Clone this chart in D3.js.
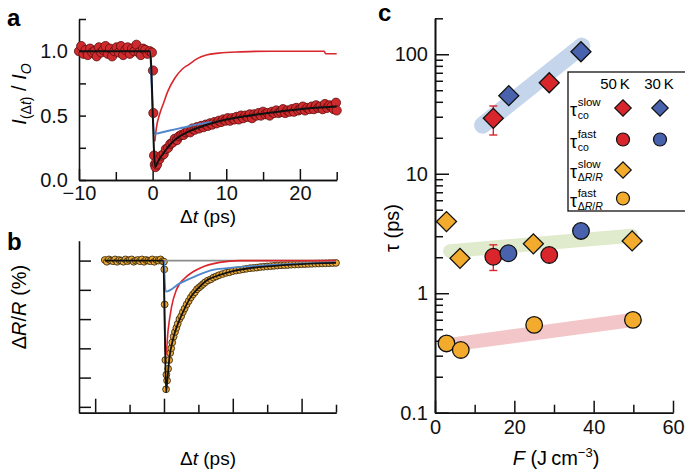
<!DOCTYPE html>
<html>
<head>
<meta charset="utf-8">
<script src="https://cdn.jsdelivr.net/npm/d3@7"></script>
<style>
  body { margin: 0; background: #fff; }
  svg { font-family: "Liberation Sans", Arial, Helvetica, sans-serif; }
</style>
</head>
<body>
<svg id="fig" width="685" height="472"></svg>
<script>
// ---- panel a: transmitted intensity I(dt)/I0 ----
const aTime = [-10, -9.7, -9.4, -9.1, -8.8, -8.5, -8.2, -7.9, -7.6, -7.3, -7.0, -6.7, -6.4, -6.1, -5.8, -5.5,
  -5.2, -4.9, -4.6, -4.3, -4.0, -3.7, -3.4, -3.1, -2.8, -2.5, -2.2, -1.9, -1.6, -1.3, -1.0, -0.7, -0.4,
  -0.1, 0.05, 0.1, 0.2, 0.3, 0.4, 0.5,
  0.6, 0.9, 1.2, 1.5, 1.8, 2.1, 2.4, 2.7, 3.0, 3.3, 3.6, 3.9, 4.2, 4.5, 4.8, 5.1, 5.4, 5.7, 6.0, 6.3,
  6.6, 6.9, 7.2, 7.5, 7.8, 8.1, 8.4, 8.7, 9.0, 9.3, 9.6, 9.9, 10.2, 10.5, 10.8, 11.1, 11.4, 11.7, 12.0,
  12.3, 12.6, 12.9, 13.2, 13.5, 13.8, 14.1, 14.4, 14.7, 15.0, 15.3, 15.6, 15.9, 16.2, 16.5, 16.8, 17.1,
  17.4, 17.7, 18.0, 18.3, 18.6, 18.9, 19.2, 19.5, 19.8, 20.1, 20.4, 20.7, 21.0, 21.3, 21.6, 21.9, 22.2,
  22.5, 22.8, 23.1, 23.4, 23.7, 24.0, 24.3, 24.6, 24.9, 25.0];
const aRatio = [1.00, 1.04, 0.98, 1.01, 0.97, 1.02, 0.99, 1.00, 0.96, 1.03, 0.99, 1.01, 1.04, 0.98, 1.02, 0.96,
  1.00, 1.03, 0.99, 1.04, 0.97, 1.01, 1.03, 0.98, 1.02, 1.00, 1.05, 0.99, 0.97, 1.02, 1.01, 0.98, 1.00,
  0.99, 0.85, 0.52, 0.19, 0.12, 0.10, 0.14,
  0.12, 0.16, 0.19, 0.20, 0.24, 0.25, 0.28, 0.29, 0.32, 0.31, 0.34, 0.35, 0.35, 0.37, 0.38, 0.37, 0.40, 0.39, 0.41, 0.40,
  0.42, 0.41, 0.43, 0.42, 0.44, 0.43, 0.45, 0.44, 0.46, 0.45, 0.47, 0.46, 0.48, 0.46, 0.48, 0.47, 0.49, 0.47, 0.50,
  0.48, 0.50, 0.49, 0.51, 0.48, 0.51, 0.50, 0.52, 0.50, 0.53, 0.51, 0.52, 0.50, 0.53, 0.52, 0.54, 0.52,
  0.53, 0.55, 0.52, 0.54, 0.53, 0.55, 0.53, 0.56, 0.54, 0.55, 0.57, 0.54, 0.56, 0.55, 0.57, 0.55, 0.58,
  0.56, 0.57, 0.55, 0.59, 0.56, 0.58, 0.57, 0.55, 0.60, 0.54];

const aFitTime  = [-10, -0.35, 0.35, 0.7, 1, 1.5, 2, 3, 4, 5, 6.4, 8, 10, 12.5, 15, 20, 25];
const aFitRatio = [1.0, 1.0, 0.10, 0.14, 0.17, 0.21, 0.25, 0.31, 0.35, 0.38, 0.41, 0.44, 0.47, 0.495, 0.515, 0.55, 0.57];
const aRedTime  = [0.3, 0.5, 1, 1.5, 2, 3, 4, 5, 6, 7.3, 9, 12, 16, 23.3, 23.5, 25];
const aRedRatio = [0.30, 0.40, 0.52, 0.60, 0.68, 0.79, 0.86, 0.90, 0.94, 0.97, 0.985, 0.995, 1.0, 1.0, 0.98, 0.98];
const aBlueTime  = [-0.3, 0.3, 2, 4, 6, 8];
const aBlueRatio = [1.0, 0.36, 0.38, 0.405, 0.43, 0.45];

// ---- panel b: reflectivity change dR/R ----
const bTime = [-8.6, -8.3, -8.0, -7.7, -7.4, -7.1, -6.8, -6.5, -6.2, -5.9, -5.6, -5.3, -5.0, -4.7, -4.4, -4.1,
  -3.8, -3.5, -3.2, -2.9, -2.6, -2.3, -2.0, -1.7, -1.4, -1.1, -0.8, -0.5, -0.2,
  0, 0.05, 0.1, 0.2, 0.3, 0.35, 0.45, 0.6, 0.75, 0.9, 1.05, 1.2, 1.4, 1.6, 1.8, 2.0, 2.25, 2.5, 2.75, 3.0,
  3.3, 3.6, 3.9, 4.2, 4.5, 4.8, 5.1, 5.4, 5.7, 6.0, 6.4, 6.8, 7.2, 7.6, 8.0, 8.5, 9.0, 9.5, 10, 10.5, 11,
  11.5, 12, 12.5, 13, 13.5, 14, 14.5, 15, 15.5, 16, 16.5, 17, 17.5, 18, 18.5, 19, 19.5, 20, 20.5, 21, 21.5,
  22, 22.5, 23, 23.5, 24, 24.5, 25];
const bSignal = [0.01, -0.02, 0.02, 0.00, -0.01, 0.02, -0.02, 0.01, 0.00, -0.02, 0.02, -0.01, 0.01, 0.02, -0.02, 0.00,
  0.01, -0.01, 0.02, -0.02, 0.01, 0.00, -0.01, 0.02, -0.02, 0.01, 0.00, 0.02, -0.01,
  -0.02, -0.15, -0.75, -1.7, -2.2, -1.95, -2.05, -1.85, -1.7, -1.58, -1.5, -1.4, -1.3, -1.22, -1.15, -1.08, -1.0, -0.95, -0.88, -0.82,
  -0.75, -0.69, -0.63, -0.58, -0.54, -0.49, -0.46, -0.43, -0.40, -0.37, -0.34, -0.32, -0.29, -0.27, -0.25, -0.23, -0.21, -0.20, -0.18, -0.17, -0.16,
  -0.15, -0.14, -0.13, -0.125, -0.12, -0.11, -0.105, -0.10, -0.095, -0.09, -0.085, -0.08, -0.078, -0.075, -0.07, -0.068, -0.065, -0.062, -0.06, -0.057, -0.055,
  -0.052, -0.05, -0.048, -0.046, -0.044, -0.042, -0.04];

const bFitTime   = [-8.6, -0.1, 0.1, 0.3, 0.45, 0.8, 1.2, 1.6, 2.3, 3, 3.75, 5, 6.2, 8, 10, 12.5, 15, 20, 25];
const bFitSignal = [0, 0, -1.0, -2.25, -2.1, -1.65, -1.4, -1.22, -1.0, -0.82, -0.65, -0.47, -0.34, -0.25, -0.18, -0.13, -0.1, -0.06, -0.04];
const bRedTime   = [0, 0.1, 0.25, 0.6, 1.1, 1.8, 3.3, 5.2, 8.1, 11, 25];
const bRedSignal = [0, -1.2, -1.64, -1.19, -0.79, -0.5, -0.27, -0.13, -0.03, 0, 0];
const bBlueTime   = [0, 0.25, 2.3, 4.7, 7.1, 10, 15, 20, 25];
const bBlueSignal = [0, -0.53, -0.39, -0.26, -0.16, -0.12, -0.08, -0.05, -0.03];
const bBaseTime   = [0, 25];
const bBaseSignal = [0, 0];

// ---- panel c: time constants vs fluence ----
const coSlow50F = [14.7, 28.8];   const coSlow50Tau = [29.1, 57.8];
const coSlow30F = [18.6, 36.8];   const coSlow30Tau = [45, 105];
const coFast50F = [14.7, 28.8];   const coFast50Tau = [2.02, 2.09];
const coFast30F = [18.5, 36.8];   const coFast30Tau = [2.16, 3.32];
const drSlowF = [2.9, 6.3, 24.8, 49.7];  const drSlowTau = [3.98, 1.96, 2.59, 2.74];
const drFastF = [2.9, 6.5, 25.0, 49.9];  const drFastTau = [0.38, 0.335, 0.543, 0.598];
const errF = [14.7, 14.7];  const errLo = [21.1, 1.55];  const errHi = [36.9, 2.54];
const bandBlueF = [12, 37];   const bandBlueTau = [25.5, 117];
const bandGreenF = [3.8, 49.5]; const bandGreenTau = [2.25, 3.03];
const bandPinkF = [5, 50.2];  const bandPinkTau = [0.375, 0.6];

const RED = "#d8262c", BLUE = "#4862ae", ORANGE = "#f2ab2c";

const svg = d3.select("#fig");
svg.append("rect").attr("width", 685).attr("height", 472).attr("fill", "#fff");

function styleAxis(g, fs) {
  g.select(".domain").attr("stroke", "#111").attr("stroke-width", 1.6);
  g.selectAll(".tick line").attr("stroke", "#111").attr("stroke-width", 1.5);
  g.selectAll(".tick text").attr("fill", "#111").attr("font-size", fs).attr("font-family", null);
}

function zip(xs, ys) { return xs.map((x, i) => [x, ys[i]]); }

// ================= panel a =================
const xa = d3.scaleLinear().domain([-10, 25]).range([79, 336.7]);
const ya = d3.scaleLinear().domain([0, 1.25]).range([180, 19]);

svg.append("g").attr("transform", "translate(0,180)")
  .call(d3.axisBottom(xa).tickValues([-5, 5, 15, 25]).tickSize(-8).tickSizeOuter(0).tickFormat(""))
  .call(g => styleAxis(g, 20));
svg.append("g").attr("transform", "translate(0,180)")
  .call(d3.axisBottom(xa).tickValues([-10, 0, 10, 20]).tickSize(-11).tickSizeOuter(0).tickPadding(6))
  .call(g => styleAxis(g, 20));
svg.append("g").attr("transform", "translate(79,0)")
  .call(d3.axisLeft(ya).tickValues([0, 0.25, 0.5, 0.75, 1.0, 1.25]).tickSize(-7).tickSizeOuter(0)
    .tickPadding(11).tickFormat(d => (d * 100) % 50 === 0 ? d3.format(".1f")(d) : ""))
  .call(g => styleAxis(g, 20));

const lineA = d3.line().x(d => xa(d[0])).y(d => ya(d[1])).curve(d3.curveMonotoneX);

svg.append("g").selectAll("circle").data(zip(aTime, aRatio)).join("circle")
  .attr("cx", d => xa(d[0])).attr("cy", d => ya(d[1])).attr("r", 4.6)
  .attr("fill", "#cf2b2e").attr("stroke", "#5a0d0d").attr("stroke-width", 0.8);

svg.append("path").datum(zip(aRedTime, aRedRatio)).attr("d", lineA)
  .attr("fill", "none").attr("stroke", RED).attr("stroke-width", 1.6);
svg.append("path").datum(zip(aBlueTime, aBlueRatio)).attr("d", lineA)
  .attr("fill", "none").attr("stroke", "#4f86cc").attr("stroke-width", 2);
svg.append("path").datum(zip(aFitTime, aFitRatio)).attr("d", lineA)
  .attr("fill", "none").attr("stroke", "#111").attr("stroke-width", 2);

// ================= panel b =================
const xb = d3.scaleLinear().domain([-12.35, 25]).range([79, 336]);
const yb = d3.scaleLinear().domain([-2.6, 0.34]).range([412.7, 240.7]);

svg.append("g").attr("transform", "translate(0,412.7)")
  .call(d3.axisBottom(xb).tickValues([-5, 5, 15, 25]).tickSize(-8).tickSizeOuter(0).tickFormat(""))
  .call(g => styleAxis(g, 20));
svg.append("g").attr("transform", "translate(0,412.7)")
  .call(d3.axisBottom(xb).tickValues([-10, 0, 10, 20]).tickSize(-14).tickSizeOuter(0).tickFormat(""))
  .call(g => styleAxis(g, 20));
svg.append("g").attr("transform", "translate(79,0)")
  .call(d3.axisLeft(yb).tickValues([0, -0.5, -1, -1.5, -2, -2.5]).tickSize(-12).tickSizeOuter(0).tickFormat(""))
  .call(g => styleAxis(g, 20));

const lineB = d3.line().x(d => xb(d[0])).y(d => yb(d[1])).curve(d3.curveMonotoneX);

svg.append("g").selectAll("circle").data(zip(bTime, bSignal)).join("circle")
  .attr("cx", d => xb(d[0])).attr("cy", d => yb(d[1])).attr("r", 3.4)
  .attr("fill", "#eeaa35").attr("stroke", "#3b2c14").attr("stroke-width", 0.9);

svg.append("path").datum(zip(bBaseTime, bBaseSignal)).attr("d", lineB)
  .attr("fill", "none").attr("stroke", "#8c8c8c").attr("stroke-width", 1.6);
svg.append("path").datum(zip(bRedTime, bRedSignal)).attr("d", lineB)
  .attr("fill", "none").attr("stroke", RED).attr("stroke-width", 1.6);
svg.append("path").datum(zip(bBlueTime, bBlueSignal)).attr("d", lineB)
  .attr("fill", "none").attr("stroke", "#4f86cc").attr("stroke-width", 1.8);
svg.append("path").datum(zip(bFitTime, bFitSignal)).attr("d", lineB)
  .attr("fill", "none").attr("stroke", "#111").attr("stroke-width", 1.8);

// ================= panel c =================
const xc = d3.scaleLinear().domain([0, 60]).range([435, 673]);
const yc = d3.scaleLog().domain([0.1, 200]).range([412.7, 18.3]);

const minorLog = [];
[0.1, 1, 10, 100].forEach(dec => { for (let k = 2; k <= 9; k++) if (dec * k <= 200) minorLog.push(dec * k); });

svg.append("g").attr("transform", "translate(0,412.7)")
  .call(d3.axisBottom(xc).tickValues([10, 30, 50]).tickSize(-8).tickSizeOuter(0).tickFormat(""))
  .call(g => styleAxis(g, 20));
svg.append("g").attr("transform", "translate(0,412.7)")
  .call(d3.axisBottom(xc).tickValues([0, 20, 40, 60]).tickSize(-12).tickSizeOuter(0).tickPadding(7).tickFormat(d3.format("d")))
  .call(g => styleAxis(g, 20));
svg.append("g").attr("transform", "translate(435,0)")
  .call(d3.axisLeft(yc).tickValues(minorLog).tickSize(-8).tickSizeOuter(0).tickFormat(""))
  .call(g => styleAxis(g, 20));
svg.append("g").attr("transform", "translate(435,0)")
  .call(d3.axisLeft(yc).tickValues([0.1, 1, 10, 100]).tickSize(-14).tickSizeOuter(0).tickPadding(7)
    .tickFormat(d => d < 1 ? "0.1" : String(d)))
  .call(g => styleAxis(g, 20));

const lineC = d3.line().x(d => xc(d[0])).y(d => yc(d[1]));
[[bandBlueF, bandBlueTau, "#c5d5eb", 17],
 [bandGreenF, bandGreenTau, "#e0ebcd", 14],
 [bandPinkF, bandPinkTau, "#f3c7c9", 14]].forEach(([fx, ty, col, w]) => {
  svg.append("path").datum(zip(fx, ty)).attr("d", lineC)
    .attr("fill", "none").attr("stroke", col).attr("stroke-width", w).attr("stroke-linecap", "round");
});

// error bars
const eb = svg.append("g").attr("stroke", RED).attr("stroke-width", 1.4);
errF.forEach((f, i) => {
  const x = xc(f);
  eb.append("line").attr("x1", x).attr("x2", x).attr("y1", yc(errLo[i])).attr("y2", yc(errHi[i]));
  eb.append("line").attr("x1", x - 4).attr("x2", x + 4).attr("y1", yc(errLo[i])).attr("y2", yc(errLo[i]));
  eb.append("line").attr("x1", x - 4).attr("x2", x + 4).attr("y1", yc(errHi[i])).attr("y2", yc(errHi[i]));
});

const diamond = d3.symbol().type(d3.symbolSquare).size(200);
function drawDiamonds(fx, ty, col) {
  svg.append("g").selectAll("path").data(zip(fx, ty)).join("path")
    .attr("d", diamond)
    .attr("transform", d => `translate(${xc(d[0])},${yc(d[1])}) rotate(45)`)
    .attr("fill", col).attr("stroke", "#111").attr("stroke-width", 1.3);
}
function drawCircles(fx, ty, col) {
  svg.append("g").selectAll("circle").data(zip(fx, ty)).join("circle")
    .attr("cx", d => xc(d[0])).attr("cy", d => yc(d[1])).attr("r", 8.3)
    .attr("fill", col).attr("stroke", "#111").attr("stroke-width", 1.3);
}
drawDiamonds(drSlowF, drSlowTau, ORANGE);
drawCircles(drFastF, drFastTau, ORANGE);
drawCircles(coFast50F, coFast50Tau, RED);
drawCircles(coFast30F, coFast30Tau, BLUE);
drawDiamonds(coSlow50F, coSlow50Tau, RED);
drawDiamonds(coSlow30F, coSlow30Tau, BLUE);

// legend
const leg = svg.append("g");
leg.append("rect").attr("x", 568).attr("y", 72).attr("width", 125).attr("height", 139)
  .attr("fill", "#fff").attr("stroke", "#111").attr("stroke-width", 1.3);
leg.append("text").attr("x", 615).attr("y", 89).attr("text-anchor", "middle").attr("font-size", 15).text("50\u2009K");
leg.append("text").attr("x", 659).attr("y", 89).attr("text-anchor", "middle").attr("font-size", 15).text("30\u2009K");

const legendRows = [
  { sup: "slow", sub: "co", marker: "d", c50: RED, c30: BLUE },
  { sup: "fast", sub: "co", marker: "c", c50: RED, c30: BLUE },
  { sup: "slow", sub: "ΔR/R", marker: "d", c50: ORANGE, c30: null },
  { sup: "fast", sub: "ΔR/R", marker: "c", c50: ORANGE, c30: null }
];
const rowY = [108, 139.5, 170, 198.5];
const smallDiamond = d3.symbol().type(d3.symbolSquare).size(135);
legendRows.forEach((r, i) => {
  const y = rowY[i];
  const tau = leg.append("text").attr("x", 570).attr("y", y + 8).attr("font-size", 18).text("τ");
  const sx = 570 + tau.node().getComputedTextLength() + 0.5;
  leg.append("text").attr("x", sx).attr("y", y - 2).attr("font-size", 11.5).text(r.sup);
  const sub = leg.append("text").attr("x", sx).attr("y", y + 11).attr("font-size", 10.5);
  if (r.sub === "co") sub.text("co");
  else {
    sub.append("tspan").text("Δ");
    sub.append("tspan").attr("font-style", "italic").text("R");
    sub.append("tspan").text("/");
    sub.append("tspan").attr("font-style", "italic").text("R");
  }
  const xs = [[623, r.c50], [660, r.c30]];
  xs.forEach(([x, col]) => {
    if (!col) return;
    if (r.marker === "d") {
      leg.append("path").attr("d", smallDiamond).attr("transform", `translate(${x},${y}) rotate(45)`)
        .attr("fill", col).attr("stroke", "#111").attr("stroke-width", 1.2);
    } else {
      leg.append("circle").attr("cx", x).attr("cy", y).attr("r", 6.5)
        .attr("fill", col).attr("stroke", "#111").attr("stroke-width", 1.2);
    }
  });
});

// ================= labels =================
function panelLabel(t, x, y) {
  svg.append("text").attr("x", x).attr("y", y).attr("font-size", 24).attr("font-weight", "bold").text(t);
}
panelLabel("a", 7, 26);
panelLabel("b", 7, 250);
panelLabel("c", 378, 21);

// x labels "Δt (ps)"
[[208, 223], [208, 465]].forEach(([x, y]) => {
  const t = svg.append("text").attr("x", x).attr("y", y).attr("text-anchor", "middle").attr("font-size", 19);
  t.append("tspan").text("Δ");
  t.append("tspan").attr("font-style", "italic").text("t");
  t.append("tspan").text(" (ps)");
});

// F (J cm-3)
const fl = svg.append("text").attr("x", 556).attr("y", 465).attr("text-anchor", "middle").attr("font-size", 20);
fl.append("tspan").attr("font-style", "italic").text("F");
fl.append("tspan").text(" (J\u2009cm");
fl.append("tspan").attr("font-size", 13).attr("dy", -8).text("−3");
fl.append("tspan").attr("dy", 8).text(")");

// y label a
const yla = svg.append("text").attr("transform", "translate(26,94) rotate(-90)")
  .attr("text-anchor", "middle").attr("font-size", 20);
yla.append("tspan").attr("font-style", "italic").text("I");
yla.append("tspan").attr("font-size", 14).attr("dy", 5).text("(Δ");
yla.append("tspan").attr("font-size", 14).attr("font-style", "italic").text("t");
yla.append("tspan").attr("font-size", 14).text(")");
yla.append("tspan").attr("dy", -5).text(" / ");
yla.append("tspan").attr("font-style", "italic").text("I");
yla.append("tspan").attr("font-size", 14).attr("font-style", "italic").attr("dy", 5).text("O");

// y label b
const ylb = svg.append("text").attr("transform", "translate(26,307) rotate(-90)")
  .attr("text-anchor", "middle").attr("font-size", 20);
ylb.append("tspan").text("Δ");
ylb.append("tspan").attr("font-style", "italic").text("R");
ylb.append("tspan").text("/");
ylb.append("tspan").attr("font-style", "italic").text("R");
ylb.append("tspan").text(" (%)");

// y label c
svg.append("text").attr("transform", "translate(399,228) rotate(-90)")
  .attr("text-anchor", "middle").attr("font-size", 20).text("τ (ps)");
</script>
</body>
</html>
